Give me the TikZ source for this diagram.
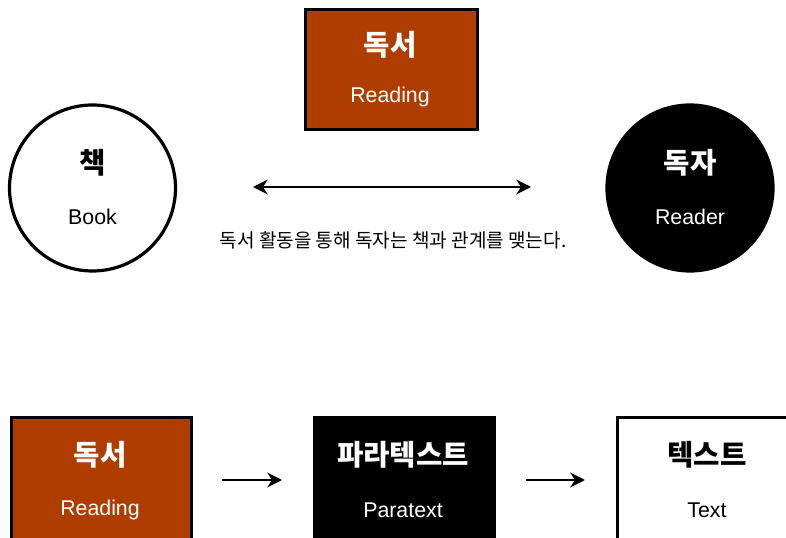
\documentclass[tikz,border=0pt]{standalone}
\usepackage{fontspec}
\setmainfont{Noto Sans CJK KR}
\newfontfamily\latinsans{Liberation Sans}
\usetikzlibrary{arrows.meta}
\definecolor{rust}{RGB}{176,61,0}
\begin{document}
\begin{tikzpicture}[x=0.75pt,y=-0.75pt,
  box/.style={draw=black,line width=2.4pt,rectangle,inner sep=0pt,anchor=north west},
  circ/.style={draw=black,line width=2.4pt,circle,inner sep=0pt,minimum size=124.5pt},
  ttl/.style={font=\fontsize{21.5}{24}\selectfont\bfseries},
  sub/.style={font=\latinsans\fontsize{16}{18}\selectfont},
  arr/.style={line width=2.2pt,-{Stealth[length=11pt,width=11pt,inset=3.5pt]}},
  darr/.style={line width=2.2pt,{Stealth[length=11pt,width=11pt,inset=3.5pt]}-{Stealth[length=11pt,width=11pt,inset=3.5pt]}}]
\useasboundingbox (0,0) rectangle (786,538);
\clip (0,0) rectangle (786,538);
% top
\node[box,fill=rust,minimum width=129pt,minimum height=90pt] (top) at (304,8) {};
\node[ttl,text=white] (topT) at (390,45) {독서};
\node[sub,text=white] (topS) at (390,97) {Reading};
\node[circ,fill=white] (book) at (92.5,188) {};
\node[ttl] (bookT) at (92.5,163) {책};
\node[sub] (bookS) at (92.5,217) {Book};
\node[circ,fill=black] (reader) at (690,188) {};
\node[ttl,text=white] (readerT) at (690,163) {독자};
\node[sub,text=white] (readerS) at (690,217) {Reader};
\coordinate (aL) at (253,187);
\coordinate (aR) at (531,187);
\draw[darr] (aL) -- (aR);
\node[font=\fontsize{14.3}{16}\selectfont] (cap) at (393,240) {독서 활동을 통해 독자는 책과 관계를 맺는다.};
% bottom
\node[box,fill=rust,minimum width=135pt,minimum height=100pt] (b1) at (10,416) {};
\node[ttl,text=white] (b1T) at (100,455) {독서};
\node[sub,text=white] (b1S) at (100,510) {Reading};
\node[box,fill=black,minimum width=135pt,minimum height=100pt] (b2) at (313,416) {};
\node[ttl,text=white] (b2T) at (403,455) {파라텍스트};
\node[sub,text=white] (b2S) at (403,510) {Paratext};
\node[box,fill=white,minimum width=136.5pt,minimum height=100pt] (b3) at (616,416) {};
\node[ttl] (b3T) at (707,455) {텍스트};
\node[sub] (b3S) at (707,510) {Text};
\draw[arr,shorten <=21.75pt,shorten >=23.25pt] (b1.east |- 0,480) -- (b2.west |- 0,480);
\draw[arr,shorten <=22.5pt,shorten >=23.25pt] (b2.east |- 0,480) -- (b3.west |- 0,480);
\end{tikzpicture}
\end{document}
